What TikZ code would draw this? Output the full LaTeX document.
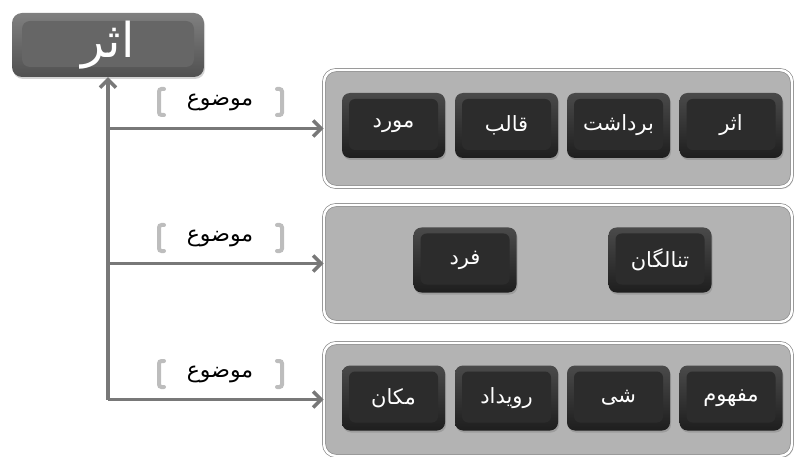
\documentclass[tikz,border=0pt]{standalone}
\usepackage{fontspec}
\TeXXeTstate=1
\newfontfamily\arabicfont[Script=Arabic]{DejaVu Sans}
\usetikzlibrary{arrows.meta,shadows,calc}

\definecolor{panelfill}{HTML}{B3B3B3}
\definecolor{panelrim}{HTML}{8C8C8C}
\definecolor{trunk}{HTML}{787878}
\definecolor{bracketgray}{HTML}{BDBDBD}
\definecolor{btntop}{HTML}{4A4A4A}
\definecolor{btnbot}{HTML}{1E1E1E}
\definecolor{btncore}{HTML}{2C2C2C}
\definecolor{headtop}{HTML}{808080}
\definecolor{headbot}{HTML}{505050}
\definecolor{headcore}{HTML}{666666}

\tikzset{
  panel/.style={draw=panelrim, line width=0.7pt, double=white, double distance=2.4pt,
    fill=panelfill, rounded corners=12pt, minimum width=468pt,
    drop shadow={opacity=0.4, shadow xshift=1.5pt, shadow yshift=-2pt}},
  btn/.style={rounded corners=8pt, top color=btntop, bottom color=btnbot,
    minimum width=103pt, minimum height=65pt, text=white,
    font=\arabicfont\fontsize{21}{24}\selectfont,
    drop shadow={opacity=0.45, shadow xshift=1pt, shadow yshift=-2pt},
    path picture={\fill[btncore, rounded corners=6pt]
      ([xshift=7pt,yshift=-6pt]path picture bounding box.north west) rectangle
      ([xshift=-7pt,yshift=8pt]path picture bounding box.south east);}},
  headbox/.style={rounded corners=10pt, top color=headtop, bottom color=headbot,
    minimum width=192pt, minimum height=64pt, text=white,
    font=\arabicfont\fontsize{48}{52}\selectfont,
    drop shadow={opacity=0.35, shadow xshift=1pt, shadow yshift=-2pt},
    path picture={\fill[headcore, rounded corners=8pt]
      ([xshift=10pt,yshift=-8pt]path picture bounding box.north west) rectangle
      ([xshift=-10pt,yshift=10pt]path picture bounding box.south east);}},
  conn/.style={draw=trunk, line width=3.5pt, -{Straight Barb[length=8pt,width=16pt]}},
  edgelabel/.style={font=\arabicfont\fontsize{22}{24}\selectfont, text=black},
  bracket/.style={draw=bracketgray, line width=4pt, rounded corners=2.5pt, line cap=round},
}

\begin{document}
\begin{tikzpicture}[x=1pt, y=-1pt]
\useasboundingbox (0,0) rectangle (795,457);

% heading
\node[headbox] (t) at (108,45) {\beginR اثر\endR};

% three grouping panels
\node[panel, minimum height=117pt] (p1) at (558,128.5) {};
\node[panel, minimum height=117pt] (p2) at (558,263.5) {};
\node[panel, minimum height=113pt] (p3) at (558,399.5) {};

% panel 1 buttons
\node[btn] (a1) at (731,125.5)   {\beginR اثر\endR};
\node[btn] (a2) at (618.5,125.5) {\beginR برداشت\endR};
\node[btn] (a3) at (506.5,125.5) {\beginR قالب\endR};
\node[btn] (a4) at (393.5,125.5) {\beginR مورد\endR};

% panel 2 buttons
\node[btn] (b1) at (660,260) {\beginR تنالگان\endR};
\node[btn] (b2) at (465,260) {\beginR فرد\endR};

% panel 3 buttons
\node[btn] (c1) at (731,398)   {\beginR مفهوم\endR};
\node[btn] (c2) at (618.5,398) {\beginR شی\endR};
\node[btn] (c3) at (506.5,398) {\beginR رویداد\endR};
\node[btn] (c4) at (393.5,398) {\beginR مکان\endR};

% junctions on the trunk
\coordinate (j1) at (108,128.5);
\coordinate (j2) at (108,263.5);
\coordinate (j3) at (108,399.5);

% connectors
\draw[conn] (j3) -- (t.south);
\draw[conn] (j1) -- (j1 -| p1.west);
\draw[conn] (j2) -- (j2 -| p2.west);
\draw[conn] (j3) -- (j3 -| p3.west);

% edge labels with bracket marks
\foreach \n/\y in {l1/102, l2/238, l3/374} {
  \node[edgelabel] (\n) at (220,\y) {\beginR موضوع\endR};
  \draw[bracket] ($(\n.center)+(-56,-13)$) -- ++(-5,0) -- ++(0,26) -- ++(5,0);
  \draw[bracket] ($(\n.center)+(57,-13)$) -- ++(5,0) -- ++(0,26) -- ++(-5,0);
}
\end{tikzpicture}
\end{document}
